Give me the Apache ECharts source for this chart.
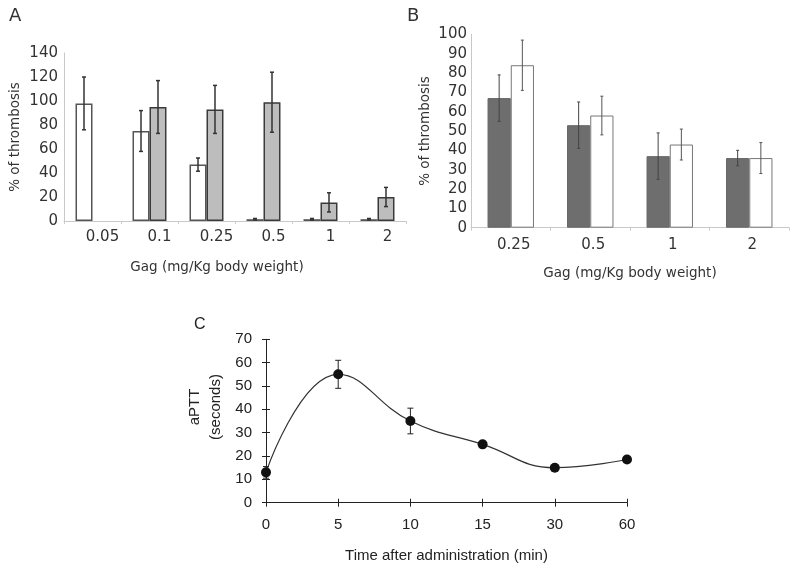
<!DOCTYPE html>
<html><head><meta charset="utf-8">
<script src="https://cdn.jsdelivr.net/npm/echarts@6/dist/echarts.min.js"></script>
<style>html,body{margin:0;padding:0;background:#fff}#c{width:800px;height:574px}</style>
</head><body><div id="c"></div>
<script>
// Panel A
const catsA = ['0.05','0.1','0.25','0.5','1','2'];
const whiteA = [98, 75, 47, 1.5, 1.5, 1.5];
const whiteErrA = [22, 17, 5.5, 0.6, 0.6, 0.6];
const grayA = [null, 95, 93, 99, 15.5, 20];
const grayErrA = [null, 22, 20, 25, 8, 8];
// Panel B
const catsB = ['0.25','0.5','1','2'];
const grayB = [67, 53, 37, 36];
const grayErrB = [12, 12, 12, 4];
const whiteB = [84, 58, 43, 36];
const whiteErrB = [13, 10, 8, 8];
// Panel C
const catsC = ['0','5','10','15','30','60'];
const aptt = [13, 55, 35, 25, 15, 18.5];
const apttErr = [2.5, 6, 5.5, 1, 1, 1.2];

const VF = 'DejaVu Sans';
const AF = 'Liberation Sans';

function errData(vals, errs){
  const out = [];
  vals.forEach((v,i)=>{ if(v!=null && errs[i]!=null) out.push([i, v-errs[i], v+errs[i]]); });
  return out;
}
function errRender(offFrac, capHalf, color, lw){
  return function(params, api){
    const x = api.value(0), lo = api.value(1), hi = api.value(2);
    const w = api.size([1,0])[0];
    const pH = api.coord([x, hi]), pL = api.coord([x, lo]);
    const cx = pH[0] + offFrac*w;
    const st = {stroke: color, lineWidth: lw};
    return {type:'group', children:[
      {type:'line', shape:{x1:cx,y1:pH[1],x2:cx,y2:pL[1]}, style:st},
      {type:'line', shape:{x1:cx-capHalf,y1:pH[1],x2:cx+capHalf,y2:pH[1]}, style:st},
      {type:'line', shape:{x1:cx-capHalf,y1:pL[1],x2:cx+capHalf,y2:pL[1]}, style:st}
    ]};
  };
}

const labA = {fontFamily: VF, fontSize: 15, color: '#333'};
const nameA = {fontFamily: VF, fontSize: 13.5, color: '#333'};
const labC = {fontFamily: AF, fontSize: 15, color: '#222'};

const option = {
  animation: false,
  backgroundColor: '#fff',
  graphic: [
    {type:'text', left: 9, top: 7, style:{text:'A', font:'18px "DejaVu Sans"', fill:'#333'}},
    {type:'text', left: 407, top: 7, style:{text:'B', font:'18px "DejaVu Sans"', fill:'#333'}},
    {type:'text', left: 194, top: 317, style:{text:'C', font:'16px "Liberation Sans"', fill:'#222'}}
  ],
  grid: [
    {left: 64, top: 53, width: 342, height: 168},
    {left: 471, top: 34.3, width: 318, height: 193.4},
    {left: 266, top: 339.3, width: 361, height: 163.4}
  ],
  xAxis: [
    {gridIndex:0, type:'category', data:catsA,
     name:'Gag (mg/Kg body weight)', nameLocation:'middle', nameGap:39,
     nameTextStyle:Object.assign({}, nameA, {padding:[0,36,0,0]}),
     axisLine:{lineStyle:{color:'#c8c8c8', width:1}},
     axisTick:{show:true, length:3, lineStyle:{color:'#ccc'}},
     axisLabel:Object.assign({}, labA, {margin:9, padding:[0,0,0,20]})},
    {gridIndex:1, type:'category', data:catsB,
     name:'Gag (mg/Kg body weight)', nameLocation:'middle', nameGap:39,
     nameTextStyle:nameA,
     axisLine:{lineStyle:{color:'#c8c8c8', width:1}},
     axisTick:{show:true, length:3, lineStyle:{color:'#ccc'}},
     axisLabel:Object.assign({}, labA, {margin:10, padding:[0,0,0,6]})},
    {gridIndex:2, type:'category', data:catsC, boundaryGap:false, position:'bottom',
     name:'Time after administration (min)', nameLocation:'middle', nameGap:46,
     nameTextStyle:{fontFamily:AF, fontSize:15, color:'#222'},
     axisLine:{lineStyle:{color:'#222', width:1}},
     axisTick:{show:true, length:4, lineStyle:{color:'#222'}},
     axisLabel:Object.assign({}, labC, {margin:15})},
    {gridIndex:2, type:'category', data:catsC, boundaryGap:false, position:'bottom',
     axisLine:{show:false}, axisLabel:{show:false},
     axisTick:{show:true, inside:true, length:4, lineStyle:{color:'#222'}}}
  ],
  yAxis: [
    {gridIndex:0, type:'value', min:0, max:140, interval:20,
     name:'% of thrombosis', nameLocation:'middle', nameGap:42, nameTextStyle:nameA,
     splitLine:{show:false}, axisLine:{show:true, lineStyle:{color:'#c8c8c8'}},
     axisTick:{show:false}, axisLabel:Object.assign({}, labA, {margin:6})},
    {gridIndex:1, type:'value', min:0, max:100, interval:10,
     name:'% of thrombosis', nameLocation:'middle', nameGap:39, nameTextStyle:nameA,
     splitLine:{show:false}, axisLine:{show:true, lineStyle:{color:'#c8c8c8'}},
     axisTick:{show:false}, axisLabel:Object.assign({}, labA, {margin:4})},
    {gridIndex:2, type:'value', min:0, max:70, interval:10, position:'left',
     name:'aPTT\n(seconds)', nameLocation:'middle', nameGap:40,
     nameTextStyle:{fontFamily:AF, fontSize:15, color:'#222', lineHeight:21, padding:[0,0,0,28]},
     splitLine:{show:false}, axisLine:{show:true, lineStyle:{color:'#222'}},
     axisTick:{show:true, length:4, lineStyle:{color:'#222'}},
     axisLabel:Object.assign({}, labC, {margin:14})},
    {gridIndex:2, type:'value', min:0, max:70, interval:10, position:'left', offset:0,
     splitLine:{show:false}, axisLine:{show:false}, axisLabel:{show:false},
     axisTick:{show:true, inside:true, length:4, lineStyle:{color:'#222'}}}
  ],
  series: [
    {type:'bar', xAxisIndex:0, yAxisIndex:0, data:whiteA, barWidth:'29.8%', barGap:'0%',
     itemStyle:{color:'#fff', borderColor:'#555', borderWidth:1.5}},
    {type:'bar', xAxisIndex:0, yAxisIndex:0, data:grayA, barWidth:'29.8%', barGap:'0%',
     itemStyle:{color:'#bdbdbd', borderColor:'#3a3a3a', borderWidth:1.5}},
    {type:'custom', xAxisIndex:0, yAxisIndex:0, data:errData(whiteA, whiteErrA),
     encode:{x:0, y:[1,2]}, renderItem:errRender(-0.149, 2, '#333', 1.5), z:5},
    {type:'custom', xAxisIndex:0, yAxisIndex:0, data:errData(grayA, grayErrA),
     encode:{x:0, y:[1,2]}, renderItem:errRender(0.149, 2, '#333', 1.5), z:5},

    {type:'bar', xAxisIndex:1, yAxisIndex:1, data:grayB, barWidth:'29.2%', barGap:'0%',
     itemStyle:{color:'#6e6e6e', borderColor:'#666', borderWidth:1}},
    {type:'bar', xAxisIndex:1, yAxisIndex:1, data:whiteB, barWidth:'29.2%', barGap:'0%',
     itemStyle:{color:'#fff', borderColor:'#777', borderWidth:1}},
    {type:'custom', xAxisIndex:1, yAxisIndex:1, data:errData(grayB, grayErrB),
     encode:{x:0, y:[1,2]}, renderItem:errRender(-0.146, 1.5, '#444', 1), z:5},
    {type:'custom', xAxisIndex:1, yAxisIndex:1, data:errData(whiteB, whiteErrB),
     encode:{x:0, y:[1,2]}, renderItem:errRender(0.146, 1.5, '#555', 1), z:5},

    {type:'custom', xAxisIndex:2, yAxisIndex:2, data:errData(aptt, apttErr),
     encode:{x:0, y:[1,2]}, renderItem:errRender(0, 3, '#222', 1), z:3},
    {type:'line', xAxisIndex:2, yAxisIndex:2, data:aptt, smooth:0.45,
     symbol:'circle', symbolSize:10, z:6,
     itemStyle:{color:'#111'}, lineStyle:{color:'#333', width:1.2}}
  ]
};
const chart = echarts.init(document.getElementById('c'), null, {renderer:'canvas'});
chart.setOption(option);
</script></body></html>
